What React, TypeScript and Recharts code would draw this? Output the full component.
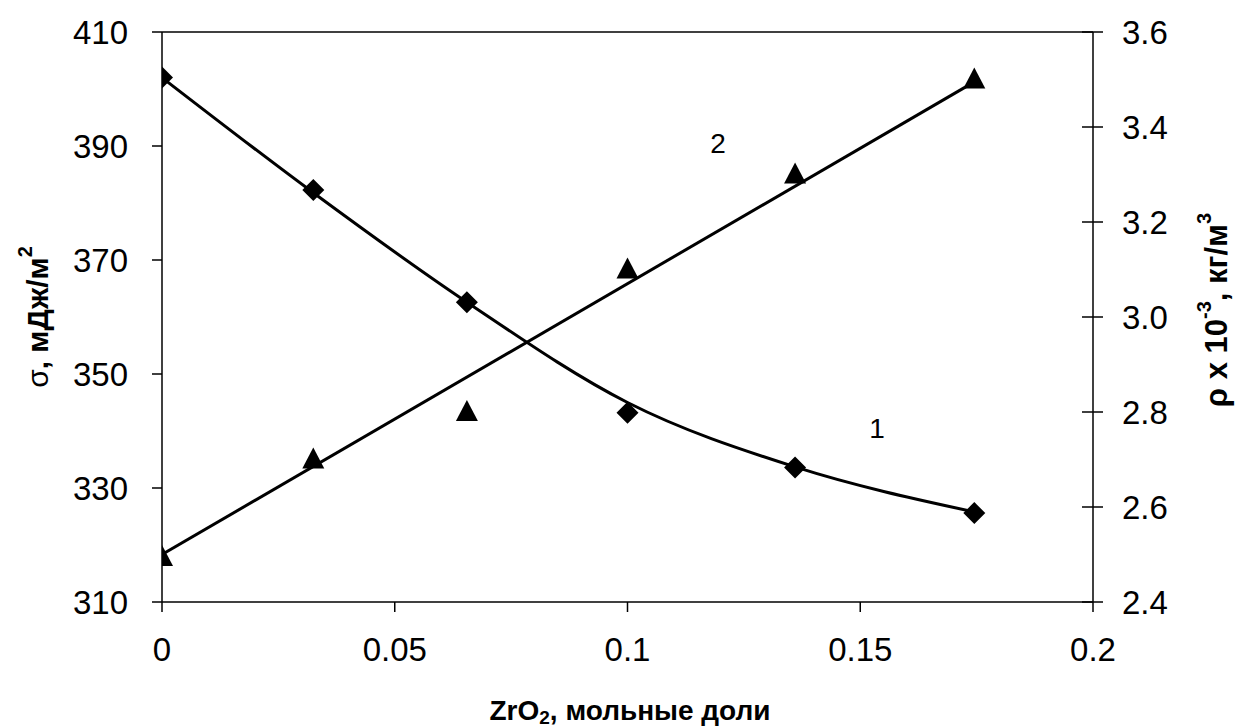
import React from 'react';
import { ComposedChart, Line, Scatter, XAxis, YAxis, ReferenceLine } from 'recharts';

// ZrO2 content, mole fraction
const zro2 = [0, 0.0325, 0.0655, 0.1, 0.136, 0.1745];
// curve 1: surface tension, mJ/m2 (left axis)
const sigma = [402, 382.3, 362.6, 343.2, 333.6, 325.6];
const sigmaFit = [402, 381.8, 362.6, 345, 333.7, 325.8];
// curve 2: density x 10^-3, kg/m3 (right axis)
const rho = [2.495, 2.7, 2.8, 3.1, 3.3, 3.5];
const rhoFitX = [0, 0.1745];
const rhoFitY = [2.5, 3.495];

const xTicks = [0, 0.05, 0.1, 0.15, 0.2];
const sigmaTicks = [310, 330, 350, 370, 390, 410];
const rhoTicks = [2.4, 2.6, 2.8, 3.0, 3.2, 3.4, 3.6];

const rows = zro2.map((x, i) => ({ x, sigma: sigma[i], sigmaFit: sigmaFit[i], rho: rho[i] }));
const rhoFit = rhoFitX.map((x, i) => ({ x, rhoFit: rhoFitY[i] }));

const FONT = '"Liberation Sans", Arial, sans-serif';
const tickFont = { fontFamily: FONT, fontSize: 33, fill: '#000' };

function Diamond(props: any) {
  const { cx, cy } = props;
  const r = 11;
  return <polygon points={`${cx},${cy - r} ${cx + r},${cy} ${cx},${cy + r} ${cx - r},${cy}`} fill="#000" />;
}

function Triangle(props: any) {
  const { cx, cy } = props;
  return <polygon points={`${cx},${cy - 12} ${cx + 11},${cy + 9} ${cx - 11},${cy + 9}`} fill="#000" />;
}

function RightTick(props: any) {
  const { x, y, payload } = props;
  const axisX = x - 29;
  return (
    <g>
      <line x1={axisX - 11} x2={axisX + 10} y1={y} y2={y} stroke="#000" strokeWidth={1.5} />
      <text x={x} y={y} dy="0.355em" textAnchor="start" {...tickFont}>
        {Number(payload.value).toFixed(1)}
      </text>
    </g>
  );
}

export default function App() {
  return (
    <div style={{ position: 'absolute', left: 0, top: 0, width: 1240, height: 728, background: '#fff' }}>
      <ComposedChart width={1240} height={728} margin={{ top: 32, right: 47, bottom: 66, left: 62 }}>
        <XAxis
          dataKey="x"
          type="number"
          domain={[0, 0.2]}
          ticks={xTicks}
          height={60}
          tickSize={10}
          tickMargin={26}
          tick={tickFont}
          axisLine={{ stroke: '#000', strokeWidth: 1.5 }}
          tickLine={{ stroke: '#000', strokeWidth: 1.5 }}
          allowDataOverflow
        />
        <YAxis
          yAxisId="left"
          orientation="left"
          type="number"
          domain={[310, 410]}
          ticks={sigmaTicks}
          width={100}
          tickSize={10}
          tickMargin={24}
          tick={tickFont}
          axisLine={{ stroke: '#000', strokeWidth: 1.5 }}
          tickLine={{ stroke: '#000', strokeWidth: 1.5 }}
        />
        <YAxis
          yAxisId="right"
          orientation="right"
          type="number"
          domain={[2.4, 3.6]}
          ticks={rhoTicks}
          width={100}
          tickSize={10}
          tickMargin={19}
          tick={<RightTick />}
          tickLine={false}
          axisLine={{ stroke: '#000', strokeWidth: 1.5 }}
        />
        <ReferenceLine yAxisId="left" y={410} stroke="#000" strokeWidth={1.5} />
        <Line
          yAxisId="left"
          data={rows}
          dataKey="sigmaFit"
          type="monotone"
          stroke="#000"
          strokeWidth={3}
          dot={false}
          isAnimationActive={false}
        />
        <Line
          yAxisId="right"
          data={rhoFit}
          dataKey="rhoFit"
          type="linear"
          stroke="#000"
          strokeWidth={3}
          dot={false}
          isAnimationActive={false}
        />
        <Scatter yAxisId="left" data={rows} dataKey="sigma" shape={<Diamond />} isAnimationActive={false} />
        <Scatter yAxisId="right" data={rows} dataKey="rho" shape={<Triangle />} isAnimationActive={false} />
      </ComposedChart>
      <svg
        width={1240}
        height={728}
        style={{ position: 'absolute', left: 0, top: 0, pointerEvents: 'none' }}
        fontFamily={FONT}
      >
        <text
          x={37}
          y={317}
          transform="rotate(-90 37 317)"
          textAnchor="middle"
          dominantBaseline="central"
          fontSize={30}
          fontWeight="bold"
        >
          <tspan fontWeight="normal">σ</tspan>, мДж/м
          <tspan fontSize={20} dy={-12}>2</tspan>
        </text>
        <text
          x={1216}
          y={310}
          transform="rotate(-90 1216 310)"
          textAnchor="middle"
          dominantBaseline="central"
          fontSize={31}
          fontWeight="bold"
        >
          ρ x 10<tspan fontSize={20} dy={-12}>-3</tspan>
          <tspan dy={12}>, кг/м</tspan>
          <tspan fontSize={20} dy={-12}>3</tspan>
        </text>
        <text x={630} y={720} textAnchor="middle" fontSize={28} fontWeight="bold">
          ZrO<tspan fontSize={19} dy={4}>2</tspan>
          <tspan dy={-4}>, мольные доли</tspan>
        </text>
        <text x={718} y={143} textAnchor="middle" dominantBaseline="central" fontSize={28}>
          2
        </text>
        <text x={877} y={428} textAnchor="middle" dominantBaseline="central" fontSize={28}>
          1
        </text>
      </svg>
    </div>
  );
}
